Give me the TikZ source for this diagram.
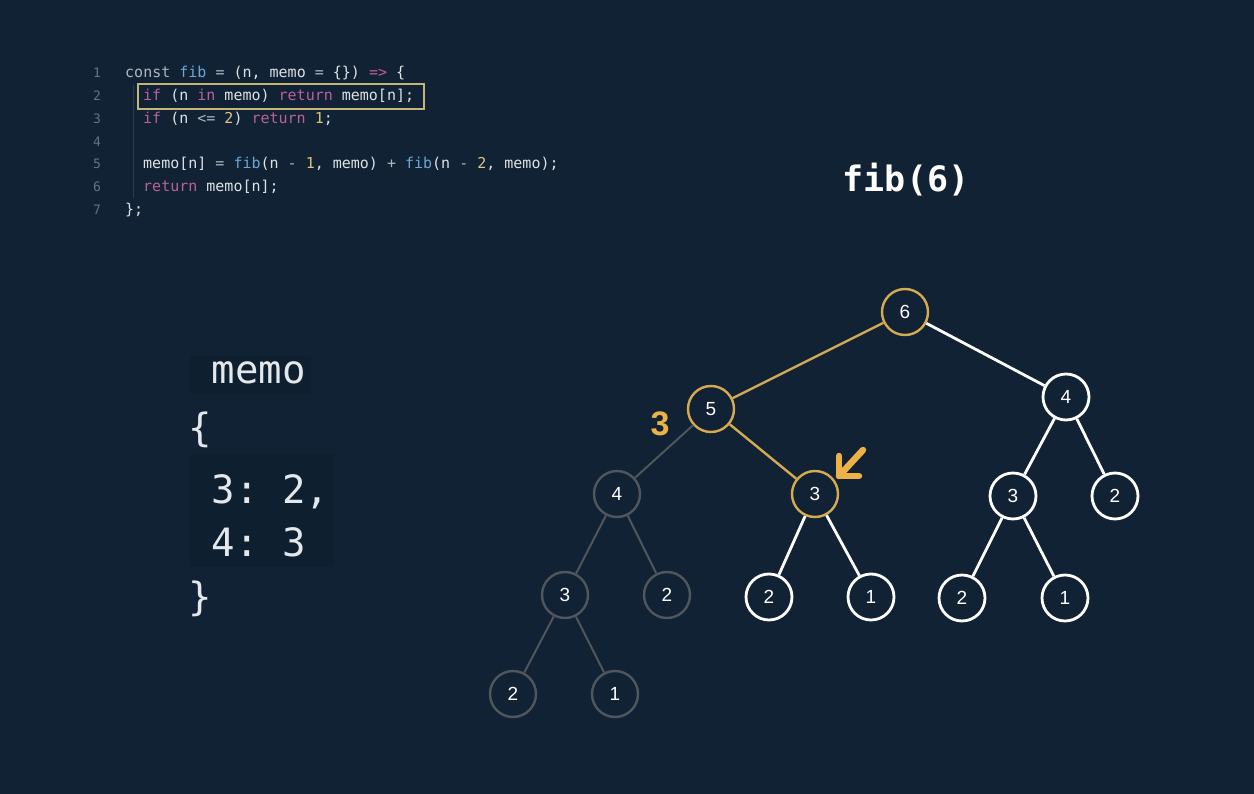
\documentclass[tikz,border=0pt]{standalone}
\usepackage{fontspec}
\setmainfont{Liberation Sans}
\newfontfamily\codefont{DejaVu Sans Mono}
\usetikzlibrary{calc}

\definecolor{bg}{RGB}{16,34,51}
\definecolor{bgdark}{RGB}{14,31,47}
\definecolor{gold}{RGB}{214,170,82}
\definecolor{goldbright}{RGB}{236,178,72}
\definecolor{dimgray}{RGB}{80,86,92}
\definecolor{codetext}{RGB}{222,225,230}
\definecolor{memotext}{RGB}{228,231,235}
\definecolor{lineno}{RGB}{100,116,132}
\definecolor{kwpink}{RGB}{186,96,156}
\definecolor{fnblue}{RGB}{108,166,216}
\definecolor{numyel}{RGB}{222,196,128}
\definecolor{opgray}{RGB}{176,182,190}
\definecolor{hlbox}{RGB}{196,182,120}
\definecolor{guide}{RGB}{44,60,76}

\newcommand{\kwc}[1]{\textcolor{kwpink}{#1}}
\newcommand{\fnc}[1]{\textcolor{fnblue}{#1}}
\newcommand{\numc}[1]{\textcolor{numyel}{#1}}
\newcommand{\opc}[1]{\textcolor{opgray}{#1}}

\tikzset{
  codeline/.style={anchor=base west, inner sep=0pt, text=codetext,
    font=\codefont\fontsize{15}{15}\selectfont},
  linenum/.style={anchor=base, inner sep=0pt, text=lineno,
    font=\codefont\fontsize{13}{13}\selectfont},
  memoline/.style={anchor=base west, inner sep=0pt, text=memotext,
    font=\codefont\fontsize{39}{39}\selectfont},
  treenode/.style={circle, minimum size=46pt, inner sep=0pt, fill=bg,
    text=white, font=\fontsize{19}{19}\selectfont},
  livenode/.style={treenode, draw=white, line width=2.8pt},
  pathnode/.style={treenode, draw=gold, line width=2.4pt},
  donenode/.style={treenode, draw=dimgray, line width=2.4pt},
  liveedge/.style={draw=white, line width=2.8pt},
  pathedge/.style={draw=gold, line width=2.4pt},
  doneedge/.style={draw=dimgray, line width=2pt},
}

\begin{document}
\begin{tikzpicture}[x=1pt,y=-1pt]
\fill[bg] (0,0) rectangle (1254,794);
\useasboundingbox (0,0) rectangle (1254,794);

% ---- source code ----
\draw[guide, line width=1pt] (133,85) -- (133,198);
\node[linenum] (n1) at (97,78) {1};
\node[linenum] (n2) at (97,101) {2};
\node[linenum] (n3) at (97,124) {3};
\node[linenum] (n4) at (97,147) {4};
\node[linenum] (n5) at (97,169) {5};
\node[linenum] (n6) at (97,192) {6};
\node[linenum] (n7) at (97,215) {7};

\node[codeline] (c1) at (125,78) {\opc{const} \fnc{fib} \opc{=} (n, memo \opc{=} \{\}) \kwc{=>} \{};
\node[codeline] (c2) at (143,101) {\kwc{if} (n \kwc{in} memo) \kwc{return} memo[n];};
\node[codeline] (c3) at (143,124) {\kwc{if} (n \opc{<=} \numc{2}) \kwc{return} \numc{1};};
\node[codeline] (c5) at (143,169) {memo[n] \opc{=} \fnc{fib}(n \opc{-} \numc{1}, memo) \opc{+} \fnc{fib}(n \opc{-} \numc{2}, memo);};
\node[codeline] (c6) at (143,192) {\kwc{return} memo[n];};
\node[codeline] (c7) at (125,215) {\};};
\draw[hlbox, line width=1.8pt] (138,84) rectangle (424,109);

% ---- memo object ----
\fill[bgdark] (190,356) rectangle (311,394);
\fill[bgdark] (190,454) rectangle (334,567);
\node[memoline] (m0) at (188,384) {\phantom{x}memo};
\node[memoline] (m1) at (188,442) {\{};
\node[memoline] (m2) at (188,503) {\phantom{x}3:\phantom{x}2,};
\node[memoline] (m3) at (188,556) {\phantom{x}4:\phantom{x}3};
\node[memoline] (m4) at (188,610) {\}};

% ---- title ----
\node[inner sep=0pt, text=white, font=\codefont\bfseries\fontsize{35}{35}\selectfont] (title) at (906,180) {fib(6)};

% ---- recursion tree ----
\node[pathnode] (r6)  at (905,312) {6};
\node[pathnode] (r5)  at (711,409) {5};
\node[livenode] (r4)  at (1066,397) {4};
\node[donenode] (l4)  at (617,494) {4};
\node[pathnode] (m3n) at (815,494) {3};
\node[livenode] (r3)  at (1013,496) {3};
\node[livenode] (r2)  at (1115,496) {2};
\node[donenode] (l3)  at (565,595) {3};
\node[donenode] (l2)  at (667,595) {2};
\node[livenode] (m2a) at (769,597) {2};
\node[livenode] (m1a) at (871,597) {1};
\node[livenode] (r2b) at (962,598) {2};
\node[livenode] (r1b) at (1065,598) {1};
\node[donenode] (l2b) at (513,694) {2};
\node[donenode] (l1b) at (615,694) {1};

\path[pathedge] (r6) -- (r5);
\path[pathedge] (r5) -- (m3n);
\path[liveedge] (r6) -- (r4);
\path[liveedge] (r4) -- (r3);
\path[liveedge] (r4) -- (r2);
\path[liveedge] (r3) -- (r2b);
\path[liveedge] (r3) -- (r1b);
\path[liveedge] (m3n) -- (m2a);
\path[liveedge] (m3n) -- (m1a);
\path[doneedge] (r5) -- (l4);
\path[doneedge] (l4) -- (l3);
\path[doneedge] (l4) -- (l2);
\path[doneedge] (l3) -- (l2b);
\path[doneedge] (l3) -- (l1b);

% returned value and pointer
\node[text=goldbright, font=\bfseries\fontsize{34}{34}\selectfont] (ret) at (660,424) {3};
\coordinate (atail) at (863,450);
\coordinate (atip) at (839,476);
\draw[goldbright, line width=6.5pt, line cap=round] (atail) -- (atip);
\draw[goldbright, line width=6.5pt, line cap=round, line join=round]
  ($(atip)+(0,-20)$) -- (atip) -- ($(atip)+(20,0)$);
\end{tikzpicture}
\end{document}
